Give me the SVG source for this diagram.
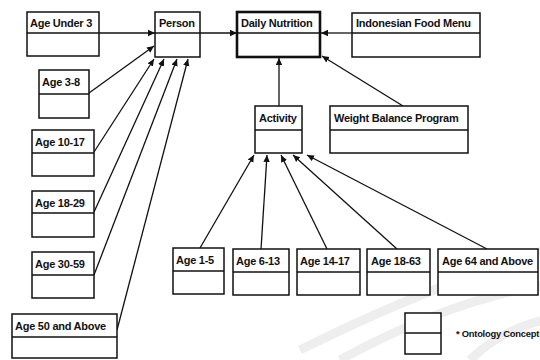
<svg xmlns="http://www.w3.org/2000/svg" width="540" height="360" viewBox="0 0 540 360">
  <style>
    .box { fill: #fff; stroke: #111; stroke-width: 1.5; }
    .strong { stroke-width: 2.6; }
    .div { stroke: #111; stroke-width: 1.3; fill: none; }
    .lbl { font-family: "Liberation Sans", Arial, sans-serif; font-weight: bold; font-size: 11px; fill: #111; letter-spacing: -0.25px; }
    .edge { stroke: #111; stroke-width: 1.3; fill: none; marker-end: url(#arr); }
    .wm { stroke: #eeeeee; stroke-width: 9; fill: none; }
  </style>
  <defs>
    <marker id="arr" markerUnits="userSpaceOnUse" markerWidth="8" markerHeight="8" refX="7" refY="4" orient="auto">
      <path d="M0,0.8 L7,4 L0,7.2 Z" fill="#111"/>
    </marker>
  </defs>
  <rect width="540" height="360" fill="#fff"/>

  <!-- faint background swooshes -->
  <g id="background">
    <path class="wm" d="M300,350 Q420,290 545,250"/>
    <path class="wm" d="M340,360 Q450,300 545,285"/>
    <path class="wm" d="M470,360 Q500,330 545,320"/>
  </g>

  <g id="connectors">
    <line class="edge" x1="99" y1="33" x2="155" y2="33"/>
    <line class="edge" x1="200" y1="33" x2="237" y2="33"/>
    <line class="edge" x1="352" y1="33" x2="321" y2="33"/>
    <line class="edge" x1="89" y1="93" x2="154" y2="46"/>
    <line class="edge" x1="94" y1="152" x2="154" y2="59"/>
    <line class="edge" x1="94" y1="212" x2="164" y2="59"/>
    <line class="edge" x1="94" y1="275" x2="177" y2="59"/>
    <line class="edge" x1="117" y1="330" x2="188" y2="59"/>
    <line class="edge" x1="279" y1="106" x2="279" y2="58"/>
    <line class="edge" x1="403" y1="106" x2="322" y2="56"/>
    <line class="edge" x1="200" y1="248" x2="254" y2="155"/>
    <line class="edge" x1="261" y1="249" x2="267" y2="155"/>
    <line class="edge" x1="327" y1="249" x2="281" y2="155"/>
    <line class="edge" x1="397" y1="249" x2="293" y2="155"/>
    <line class="edge" x1="487" y1="249" x2="307" y2="155"/>
  </g>

  <g id="age-under-3">
    <rect class="box" x="27" y="12" width="72" height="44"/>
    <line class="div" x1="27" y1="33" x2="99" y2="33"/>
    <text class="lbl" x="30" y="27">Age Under 3</text>
  </g>
  <g id="person">
    <rect class="box" x="155" y="12" width="45" height="45"/>
    <line class="div" x1="155" y1="33" x2="200" y2="33"/>
    <text class="lbl" x="159" y="27">Person</text>
  </g>
  <g id="daily-nutrition">
    <rect class="box strong" x="237" y="12" width="83" height="45"/>
    <line class="div" x1="237" y1="33" x2="320" y2="33"/>
    <text class="lbl" x="241" y="27">Daily Nutrition</text>
  </g>
  <g id="indonesian-food-menu">
    <rect class="box" x="352" y="13" width="128" height="44"/>
    <line class="div" x1="352" y1="33" x2="480" y2="33"/>
    <text class="lbl" x="356" y="27">Indonesian Food Menu</text>
  </g>

  <g id="age-3-8">
    <rect class="box" x="39" y="70" width="50" height="48"/>
    <line class="div" x1="39" y1="94" x2="89" y2="94"/>
    <text class="lbl" x="42" y="86">Age 3-8</text>
  </g>
  <g id="age-10-17">
    <rect class="box" x="32" y="130" width="62" height="46"/>
    <line class="div" x1="32" y1="153" x2="94" y2="153"/>
    <text class="lbl" x="35" y="146">Age 10-17</text>
  </g>
  <g id="age-18-29">
    <rect class="box" x="32" y="191" width="62" height="46"/>
    <line class="div" x1="32" y1="213" x2="94" y2="213"/>
    <text class="lbl" x="35" y="207">Age 18-29</text>
  </g>
  <g id="age-30-59">
    <rect class="box" x="32" y="252" width="62" height="46"/>
    <line class="div" x1="32" y1="275" x2="94" y2="275"/>
    <text class="lbl" x="35" y="268">Age 30-59</text>
  </g>
  <g id="age-50-and-above">
    <rect class="box" x="12" y="314" width="105" height="44"/>
    <line class="div" x1="12" y1="337" x2="117" y2="337"/>
    <text class="lbl" x="15" y="330">Age 50 and Above</text>
  </g>

  <g id="activity">
    <rect class="box" x="255" y="106" width="47" height="47"/>
    <line class="div" x1="255" y1="130" x2="302" y2="130"/>
    <text class="lbl" x="259" y="122">Activity</text>
  </g>
  <g id="weight-balance-program">
    <rect class="box" x="330" y="106" width="138" height="47"/>
    <line class="div" x1="330" y1="130" x2="468" y2="130"/>
    <text class="lbl" x="334" y="122">Weight Balance Program</text>
  </g>

  <g id="age-1-5">
    <rect class="box" x="173" y="248" width="51" height="46"/>
    <line class="div" x1="173" y1="271" x2="224" y2="271"/>
    <text class="lbl" x="176" y="264">Age 1-5</text>
  </g>
  <g id="age-6-13">
    <rect class="box" x="233" y="249" width="56" height="46"/>
    <line class="div" x1="233" y1="272" x2="289" y2="272"/>
    <text class="lbl" x="236" y="265">Age 6-13</text>
  </g>
  <g id="age-14-17">
    <rect class="box" x="297" y="249" width="63" height="46"/>
    <line class="div" x1="297" y1="272" x2="360" y2="272"/>
    <text class="lbl" x="300" y="265">Age 14-17</text>
  </g>
  <g id="age-18-63">
    <rect class="box" x="367" y="249" width="63" height="46"/>
    <line class="div" x1="367" y1="272" x2="430" y2="272"/>
    <text class="lbl" x="371" y="265">Age 18-63</text>
  </g>
  <g id="age-64-and-above">
    <rect class="box" x="438" y="249" width="100" height="46"/>
    <line class="div" x1="438" y1="272" x2="538" y2="272"/>
    <text class="lbl" x="442" y="265">Age 64 and Above</text>
  </g>

  <g id="legend">
    <rect class="box" x="405" y="313" width="36" height="41"/>
    <line class="div" x1="405" y1="333" x2="441" y2="333"/>
    <text class="lbl" x="456" y="337" style="font-size:9.4px">* Ontology Concept</text>
  </g>
</svg>
